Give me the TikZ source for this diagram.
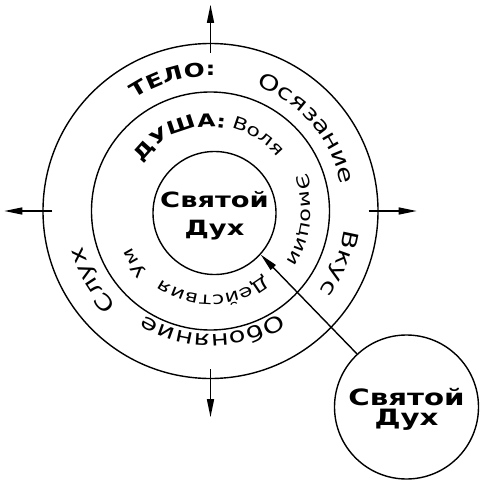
\documentclass[tikz,border=0pt]{standalone}
\usepackage{fontspec}
\setmainfont[FakeStretch=1.3]{DejaVu Sans}
\usetikzlibrary{positioning, arrows.meta, decorations.text}

\begin{document}
\begin{tikzpicture}[
  x=1pt, y=1pt,
  ring/.style={draw, circle, line width=1.4pt, inner sep=0pt},
  spirit/.style={ring, align=center, text depth=0pt, font=\fontsize{21}{28}\selectfont\bfseries},
  arr/.style={-{Triangle[length=18pt, width=7pt]}, line width=1.4pt}
]
  \useasboundingbox (-210.5,-268) rectangle (270.5,211);

  % Krugi
  \node[ring, minimum size=335pt] (body) at (0,0) {};
  \node[ring, minimum size=238pt] (soul) at (0,0) {};
  \node[spirit, minimum size=123pt] (spirit) at (4,-2) {Святой\\Дух};
  \node[spirit, minimum size=144pt, font=\fontsize{22.5}{20}\selectfont\bfseries] (gift) at (196,-196) {Святой\\Дух};

  % Strelki
  \foreach \a in {0,90,180,270}
    \draw[arr] ([shift={(\a:-10)}]body.\a) -- ([shift={(\a:38)}]body.\a);
  \draw[arr] (gift.133) -- (spirit.-42);

  % Telo
  \path[decorate, decoration={text along path,
    text={|\fontsize{19}{24}\selectfont\bfseries|ТЕЛО:}}]
    (124:135) arc[start angle=124, end angle=0, radius=135];
  \path[decorate, decoration={text along path,
    text={|\fontsize{21}{26}\selectfont|Осязание}}]
    (70:133) arc[start angle=70, end angle=-60, radius=133];
  \path[decorate, decoration={text along path,
    text={|\fontsize{21}{26}\selectfont|Вкус}}]
    (-8:135) arc[start angle=-8, end angle=-120, radius=135];
  \path[decorate, decoration={text along path,
    text={|\fontsize{21}{26}\selectfont|Обоняние}}]
    (-56:123) arc[start angle=-56, end angle=-180, radius=123];
  \path[decorate, decoration={text along path,
    text={|\fontsize{21}{26}\selectfont|Слух}}]
    (225:133) arc[start angle=225, end angle=120, radius=133];

  % Dusha
  \path[decorate, decoration={text along path,
    text={|\fontsize{18}{22}\selectfont\bfseries|ДУША:}}]
    (145:84) arc[start angle=145, end angle=20, radius=84];
  \path[decorate, decoration={text along path,
    text={|\fontsize{17}{21}\selectfont|Воля}}]
    (76:86) arc[start angle=76, end angle=-40, radius=86];
  \path[decorate, decoration={text along path,
    text={|\fontsize{17}{21}\selectfont|Эмоции}}]
    (22:91) arc[start angle=22, end angle=-90, radius=91];
  \path[decorate, decoration={text along path,
    text={|\fontsize{17}{21}\selectfont|Действия}}]
    (-50:84) arc[start angle=-50, end angle=-180, radius=84];
  \path[decorate, decoration={text along path,
    text={|\fontsize{17}{21}\selectfont|Ум}}]
    (224:87) arc[start angle=224, end angle=120, radius=87];
\end{tikzpicture}
\end{document}
